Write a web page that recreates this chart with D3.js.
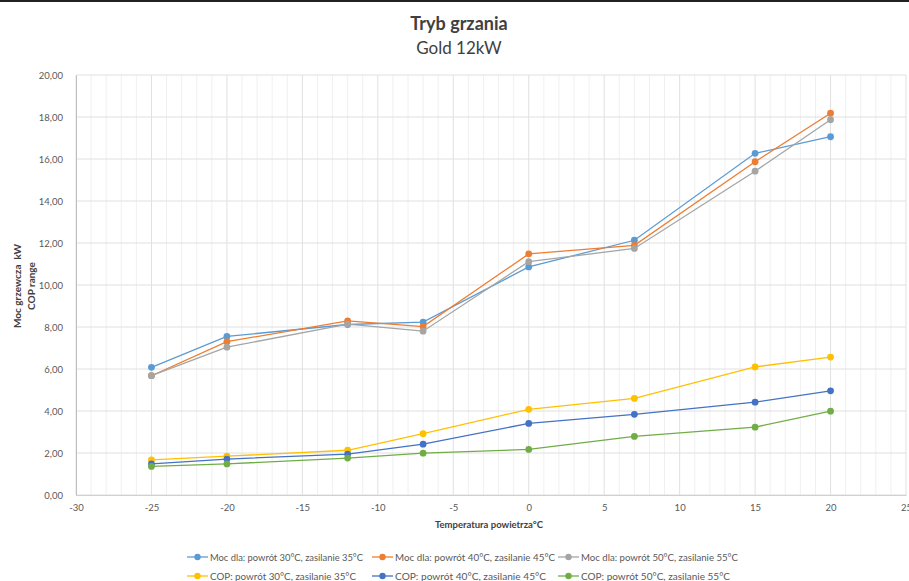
<!DOCTYPE html>
<html><head><meta charset="utf-8">
<script src="https://cdn.jsdelivr.net/npm/d3@7"></script>
<style>body{margin:0;background:#fff}svg{display:block}text{font-family:Lato,"Open Sans",sans-serif}</style>
</head><body>
<svg id="c" width="909" height="581"></svg>
<script>
const temps = [-25, -20, -12, -7, 0, 7, 15, 20];
const moc30 = [6.08, 7.55, 8.12, 8.23, 10.86, 12.13, 16.27, 17.06];
const moc40 = [5.68, 7.30, 8.29, 8.02, 11.48, 11.89, 15.87, 18.18];
const moc50 = [5.68, 7.04, 8.14, 7.80, 11.11, 11.74, 15.42, 17.87];
const cop30 = [1.67, 1.85, 2.13, 2.92, 4.08, 4.60, 6.10, 6.57];
const cop40 = [1.48, 1.71, 1.95, 2.42, 3.41, 3.84, 4.42, 4.96];
const cop50 = [1.36, 1.48, 1.76, 1.99, 2.17, 2.79, 3.23, 3.99];
const seriesNames = [
  "Moc dla: powrót 30°C, zasilanie 35°C",
  "Moc dla: powrót 40°C, zasilanie 45°C",
  "Moc dla: powrót 50°C, zasilanie 55°C",
  "COP: powrót 30°C, zasilanie 35°C",
  "COP: powrót 40°C, zasilanie 45°C",
  "COP: powrót 50°C, zasilanie 55°C"
];
const seriesValues = [moc30, moc40, moc50, cop30, cop40, cop50];
const colors = ["#5B9BD5", "#ED7D31", "#A5A5A5", "#FFC000", "#4472C4", "#70AD47"];
const xTicks = [-30, -25, -20, -15, -10, -5, 0, 5, 10, 15, 20, 25];
const yTicks = [0, 2, 4, 6, 8, 10, 12, 14, 16, 18, 20];

const svg = d3.select("#c");
const x = d3.scaleLinear().domain([-30, 25]).range([76, 906]);
const y = d3.scaleLinear().domain([0, 20]).range([495, 75]);

svg.append("rect").attr("x", 0).attr("y", 0).attr("width", 909).attr("height", 2).attr("fill", "#222");

// gridlines
const g = svg.append("g");
g.selectAll("line.minor").data(d3.range(-30, 26, 1).filter(v => v % 5 !== 0)).join("line")
  .attr("x1", d => x(d)).attr("x2", d => x(d)).attr("y1", y(20)).attr("y2", y(0))
  .attr("stroke", "#F0F0F0").attr("stroke-width", 1);
g.selectAll("line.majv").data(xTicks).join("line")
  .attr("x1", d => x(d)).attr("x2", d => x(d)).attr("y1", y(20)).attr("y2", y(0))
  .attr("stroke", "#E0E0E0").attr("stroke-width", 1);
svg.append("g").selectAll("line").data(yTicks).join("line")
  .attr("x1", x(-30)).attr("x2", x(25)).attr("y1", d => y(d)).attr("y2", d => y(d))
  .attr("stroke", "#E0E0E0").attr("stroke-width", 1);

// axes
const xa = svg.append("g").attr("transform", `translate(0,${y(0)})`)
  .call(d3.axisBottom(x).tickValues(xTicks).tickSize(0).tickPadding(9).tickFormat(d => String(d)));
xa.select(".domain").attr("stroke", "#D0D0D0");
const ya = svg.append("g").attr("transform", `translate(${x(-30)},0)`)
  .call(d3.axisLeft(y).tickValues(yTicks).tickSize(0).tickPadding(13).tickFormat(d => d.toFixed(2).replace(".", ",")));
ya.select(".domain").attr("stroke", "#BFBFBF");
svg.selectAll(".tick text").attr("fill", "#595959").style("font-size", "9.5px").style("font-family", "Lato, sans-serif");

// series
const line = d3.line().x((d, i) => x(temps[i])).y(d => y(d));
seriesValues.forEach((vals, si) => {
  svg.append("path").datum(vals).attr("d", line).attr("fill", "none")
    .attr("stroke", colors[si]).attr("stroke-width", 1.3);
  svg.append("g").selectAll("circle").data(vals).join("circle")
    .attr("cx", (d, i) => x(temps[i])).attr("cy", d => y(d)).attr("r", 3.4)
    .attr("fill", colors[si]);
});

// titles
svg.append("text").attr("x", 459).attr("y", 30).attr("text-anchor", "middle")
  .attr("fill", "#404040").style("font-size", "18px").style("font-weight", "bold").text("Tryb grzania");
svg.append("text").attr("x", 459).attr("y", 54).attr("text-anchor", "middle")
  .attr("fill", "#404040").style("font-size", "17px").text("Gold 12kW");

svg.append("text").attr("transform", "translate(21,286) rotate(-90)").attr("text-anchor", "middle")
  .attr("fill", "#404040").style("font-size", "10px").style("font-weight", "bold")
  .style("white-space", "pre").text("Moc grzewcza  kW");
svg.append("text").attr("transform", "translate(35,286) rotate(-90)").attr("text-anchor", "middle")
  .attr("fill", "#404040").style("font-size", "10px").style("font-weight", "bold").text("COP range");
svg.append("text").attr("x", 489).attr("y", 528).attr("text-anchor", "middle")
  .attr("fill", "#404040").style("font-size", "9.5px").style("font-weight", "bold").text("Temperatura powietrza°C");

// legend
const colX = [187, 372, 558];
const rowY = [557, 576];
const legendTextWidth = [153, 160, 157, 146, 151, 149];
seriesNames.forEach((name, i) => {
  const lx = colX[i % 3], ly = rowY[Math.floor(i / 3)];
  const lg = svg.append("g");
  lg.append("line").attr("x1", lx).attr("x2", lx + 21).attr("y1", ly).attr("y2", ly)
    .attr("stroke", colors[i]).attr("stroke-width", 1.3);
  lg.append("circle").attr("cx", lx + 10.5).attr("cy", ly).attr("r", 3.2).attr("fill", colors[i]);
  lg.append("text").attr("x", lx + 23).attr("y", ly + 3.5).attr("fill", "#595959")
    .attr("textLength", legendTextWidth[i]).attr("lengthAdjust", "spacingAndGlyphs")
    .style("font-size", "10px").text(name);
});
</script>
</body></html>
